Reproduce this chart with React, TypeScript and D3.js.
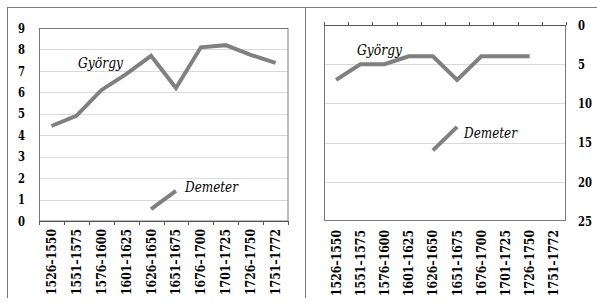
import React, { useEffect, useRef } from 'react';
import * as d3 from 'd3';

// periods on the x axis
const periods = ['1526–1550', '1551–1575', '1576–1600', '1601–1625', '1626–1650', '1651–1675', '1676–1700', '1701–1725', '1726–1750', '1751–1772'];

// left panel values
const gyorgyLeft = [4.43, 4.9, 6.1, 6.85, 7.7, 6.2, 8.1, 8.2, 7.75, 7.37];
const demeterLeft = [null, null, null, null, 0.55, 1.4, null, null, null, null];
const leftTicks = [0, 1, 2, 3, 4, 5, 6, 7, 8, 9];

// right panel values (reversed axis)
const gyorgyRight = [7, 5, 5, 4, 4, 7, 4, 4, 4, null];
const demeterRight = [null, null, null, null, 16, 13, null, null, null, null];
const rightTicks = [0, 5, 10, 15, 20, 25];

// only DejaVu Serif resolves to a serif face here; widths squeezed to Times-like proportions
const serif = 'DejaVu Serif';

export default function App() {
  const ref = useRef<SVGSVGElement>(null);

  useEffect(() => {
    const svg = d3.select(ref.current);
    svg.selectAll('*').remove();

    const lineColor = '#808080';
    const frameColor = '#7a7a7a';
    const gridColor = '#d9d9d9';

    // outer frame
    svg.append('line').attr('x1', 7).attr('x2', 597).attr('y1', 7.5).attr('y2', 7.5).attr('stroke', frameColor);
    svg.append('line').attr('x1', 7.5).attr('x2', 7.5).attr('y1', 7).attr('y2', 298).attr('stroke', frameColor);
    svg.append('line').attr('x1', 305.5).attr('x2', 305.5).attr('y1', 7).attr('y2', 298).attr('stroke', frameColor);

    const drawSeries = (g: any, x: any, y: any, vals: (number | null)[]) => {
      const line = d3.line<number | null>()
        .defined(d => d !== null)
        .x((d, i) => (x(periods[i]) as number) + x.bandwidth() / 2)
        .y(d => y(d as number));
      g.append('path')
        .attr('d', line(vals))
        .attr('fill', 'none')
        .attr('stroke', lineColor)
        .attr('stroke-width', 4)
        .attr('stroke-linejoin', 'miter');
    };

    const catLabels = (g: any, x: any, top: number) => {
      g.selectAll('.cat').data(periods).enter().append('text')
        .attr('transform', (d: string) => 'translate(' + ((x(d) as number) + x.bandwidth() / 2 + 4.5) + ',' + top + ') rotate(-90)')
        .attr('text-anchor', 'end')
        .attr('font-family', serif)
        .attr('font-weight', 'bold')
        .attr('font-size', 13)
        .attr('textLength', 66)
        .attr('lengthAdjust', 'spacingAndGlyphs')
        .text((d: string) => d);
    };

    const yLabels = (g: any, ticks: number[], y: any, x: number, anchor: string) => {
      g.selectAll('.yl').data(ticks).enter().append('text')
        .attr('x', x).attr('y', (d: number) => y(d) + 4.7)
        .attr('text-anchor', anchor)
        .attr('font-family', serif).attr('font-weight', 'bold').attr('font-size', 13)
        .attr('textLength', (d: number) => String(d).length * 7)
        .attr('lengthAdjust', 'spacingAndGlyphs')
        .text((d: number) => d);
    };

    const note = (g: any, x: number, y: number, txt: string, len: number) => {
      g.append('text').attr('x', x).attr('y', y)
        .attr('font-family', serif).attr('font-style', 'italic').attr('font-size', 14)
        .attr('textLength', len).attr('lengthAdjust', 'spacingAndGlyphs')
        .text(txt);
    };

    const boundaries = (x: any) => periods.map(p => x(p) as number).concat([x.range()[1]]);

    // ---- left panel ----
    const xL = d3.scaleBand().domain(periods).range([39, 288]).padding(0);
    const yL = d3.scaleLinear().domain([0, 9]).range([221, 28]);
    const gL = svg.append('g');

    gL.selectAll('.grid').data(leftTicks.slice(1, -1)).enter().append('line')
      .attr('x1', 39).attr('x2', 288)
      .attr('y1', (d: number) => Math.round(yL(d)) + 0.5).attr('y2', (d: number) => Math.round(yL(d)) + 0.5)
      .attr('stroke', gridColor);
    gL.append('rect').attr('x', 39.5).attr('y', 28.5).attr('width', 248.5).attr('height', 192.5)
      .attr('fill', 'none').attr('stroke', frameColor);
    gL.selectAll('.tk').data(boundaries(xL)).enter().append('line')
      .attr('x1', (d: number) => Math.round(d) + 0.5).attr('x2', (d: number) => Math.round(d) + 0.5)
      .attr('y1', 221).attr('y2', 225).attr('stroke', '#555');
    gL.append('line').attr('x1', 39).attr('x2', 288).attr('y1', 221.5).attr('y2', 221.5).attr('stroke', '#555');
    yLabels(gL, leftTicks, yL, 25, 'end');
    catLabels(gL, xL, 229);
    drawSeries(gL, xL, yL, gyorgyLeft);
    drawSeries(gL, xL, yL, demeterLeft);
    note(gL, 78, 68, 'György', 45);
    note(gL, 185, 192, 'Demeter', 53);

    // ---- right panel ----
    const xR = d3.scaleBand().domain(periods).range([324, 566]).padding(0);
    const yR = d3.scaleLinear().domain([0, 25]).range([25, 221]);
    const gR = svg.append('g');

    gR.selectAll('.grid').data(rightTicks.slice(1, -1)).enter().append('line')
      .attr('x1', 324).attr('x2', 566)
      .attr('y1', (d: number) => Math.round(yR(d)) + 0.5).attr('y2', (d: number) => Math.round(yR(d)) + 0.5)
      .attr('stroke', gridColor);
    gR.append('rect').attr('x', 324.5).attr('y', 25.5).attr('width', 241).attr('height', 195)
      .attr('fill', 'none').attr('stroke', frameColor);
    gR.selectAll('.tk').data(boundaries(xR)).enter().append('line')
      .attr('x1', (d: number) => Math.round(d) + 0.5).attr('x2', (d: number) => Math.round(d) + 0.5)
      .attr('y1', 22).attr('y2', 25).attr('stroke', '#555');
    gR.append('line').attr('x1', 324).attr('x2', 566).attr('y1', 25.5).attr('y2', 25.5).attr('stroke', '#555');
    yLabels(gR, rightTicks, yR, 578, 'start');
    catLabels(gR, xR, 230);
    drawSeries(gR, xR, yR, gyorgyRight);
    drawSeries(gR, xR, yR, demeterRight);
    note(gR, 357, 55, 'György', 45);
    note(gR, 464, 138, 'Demeter', 53);
  }, []);

  return (
    <svg ref={ref} width={597} height={303}
      style={{ position: 'absolute', left: 0, top: 0, background: '#fff' }} />
  );
}
